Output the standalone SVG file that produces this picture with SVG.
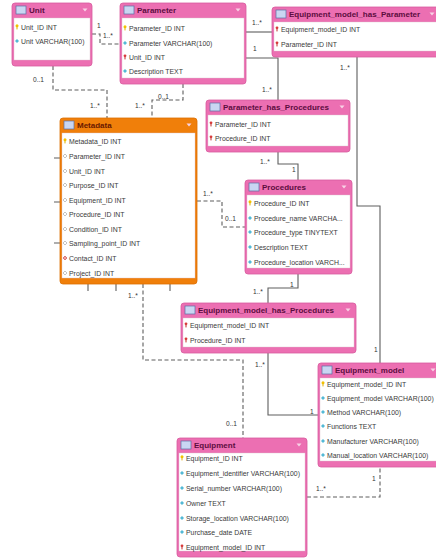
<svg xmlns="http://www.w3.org/2000/svg" xmlns:xlink="http://www.w3.org/1999/xlink" width="436" height="559" viewBox="0 0 436 559">
<style>
.frame{fill:#ec6fb2;stroke:#d85a9e;stroke-width:0.8}
.mframe{fill:#f07f0a;stroke:#dc6f00;stroke-width:0.8}
.body{fill:#ffffff;stroke:#d9c0cc;stroke-width:0.4}
.ico{fill:#c9d6f2;stroke:#5b6ea3;stroke-width:0.7}
.hd{font-family:"Liberation Sans",Arial,sans-serif;font-weight:bold;font-size:8px;fill:#5c0d3f}
.mhd{font-family:"Liberation Sans",Arial,sans-serif;font-weight:bold;font-size:8px;fill:#6a1800}
.arr{fill:#f7d3e6}
.r{font-family:"Liberation Sans",Arial,sans-serif;font-size:6.9px;fill:#3a3a3a}
.lb{font-family:"Liberation Sans",Arial,sans-serif;font-size:6.6px;fill:#333}
.sol{fill:none;stroke:#5e5e5e;stroke-width:1.1}
.das{fill:none;stroke:#5e5e5e;stroke-width:1.1;stroke-dasharray:4,2.5}
</style>
<defs>
<g id="k"><circle cx="0" cy="-1.2" r="1.5" fill="#f2c200"/><rect x="-0.5" y="-0.2" width="1" height="2.6" fill="#e0b000"/></g>
<g id="f"><circle cx="0" cy="-1.2" r="1.4" fill="#d83a3a"/><rect x="-0.5" y="-0.2" width="1" height="2.6" fill="#c02a2a"/></g>
<path id="c" d="M0,-2 L2,0 L0,2 L-2,0Z" fill="#53b9d6"/>
<path id="h" d="M0,-2 L2,0 L0,2 L-2,0Z" fill="#ffffff" stroke="#9a9a9a" stroke-width="0.6"/>
<path id="hr" d="M0,-2 L2,0 L0,2 L-2,0Z" fill="#f2a0a0" stroke="#c04040" stroke-width="0.6"/>
<path id="a" d="M-2.5,-1.5 L2.5,-1.5 L0,1.5Z"/>
</defs>

<g id="connectors">
<path class="das" d="M92,34 H100 V44 H120"/>
<path class="das" d="M53,66 V90 H107 V118"/>
<path class="das" d="M183,84 V100 H152 V118"/>
<path class="sol" d="M246,32 H272"/>
<path class="sol" d="M246,58 H278 V100"/>
<path class="sol" d="M357,57 V206 H380 V363"/>
<path class="sol" d="M278,152 V164 H298 V180"/>
<path class="das" d="M197,201 H222 V227 H245"/>
<path class="sol" d="M298,274 V288 H268 V303"/>
<path class="sol" d="M268,353 V415 H318"/>
<path class="das" d="M143,284 V360 H243 V438"/>
<path class="das" d="M307,497 H380 V467"/>
<path class="sol" d="M54,158 H60 M54,202 H60 M54,243 H60 M88,284 V291 M116,284 V291 M170,284 V291"/>
<text class="lb" x="97" y="28">1</text><text class="lb" x="103" y="38">1..*</text>
<text class="lb" x="33" y="82">0..1</text><text class="lb" x="90" y="108">1..*</text>
<text class="lb" x="158" y="99">0..1</text><text class="lb" x="135" y="108">1..*</text>
<text class="lb" x="252" y="25">1..*</text>
<text class="lb" x="253" y="51">1</text><text class="lb" x="262" y="92">1..*</text>
<text class="lb" x="340" y="70">1..*</text><text class="lb" x="374" y="352">1</text>
<text class="lb" x="260" y="164">1..*</text><text class="lb" x="292" y="172">1</text>
<text class="lb" x="203" y="196">1..*</text><text class="lb" x="225" y="221">0..1</text>
<text class="lb" x="253" y="294">1..*</text><text class="lb" x="290" y="287">1</text>
<text class="lb" x="255" y="367">1..*</text><text class="lb" x="310" y="414">1</text>
<text class="lb" x="128" y="298">1..*</text><text class="lb" x="226" y="426">0..1</text>
<text class="lb" x="316" y="491">1..*</text><text class="lb" x="372" y="481">1</text>
</g>

<g id="unit">
<rect class="frame" x="12" y="3" width="80" height="63" rx="3"/>
<rect class="body" x="14" y="18" width="76" height="42"/>
<rect class="ico" x="16" y="6" width="10" height="8"/>
<text class="hd" x="29" y="13">Unit</text>
<use href="#a" x="85" y="10" class="arr"/>
<use href="#k" x="17" y="27"/><text class="r" x="21" y="29.5">Unit_ID INT</text>
<use href="#c" x="17" y="41"/><text class="r" x="21" y="43.5">Unit VARCHAR(100)</text>
</g>

<g id="parameter">
<rect class="frame" x="120" y="3" width="126" height="81" rx="3"/>
<rect class="body" x="122" y="18" width="122" height="60"/>
<rect class="ico" x="124" y="6" width="10" height="8"/>
<text class="hd" x="137" y="13">Parameter</text>
<use href="#a" x="238" y="10" class="arr"/>
<use href="#k" x="125" y="28"/><text class="r" x="129" y="30.5">Parameter_ID INT</text>
<use href="#c" x="125" y="43"/><text class="r" x="129" y="45.5">Parameter VARCHAR(100)</text>
<use href="#f" x="125" y="57"/><text class="r" x="129" y="59.5">Unit_ID INT</text>
<use href="#c" x="125" y="71"/><text class="r" x="129" y="73.5">Description TEXT</text>
</g>

<g id="equipment_model_has_parameter">
<rect class="frame" x="272" y="7" width="168" height="50" rx="3"/>
<rect class="body" x="274" y="22" width="164" height="29"/>
<rect class="ico" x="276" y="10" width="10" height="8"/>
<text class="hd" x="289" y="17">Equipment_model_has_Parameter</text>
<use href="#a" x="432" y="14" class="arr"/>
<use href="#f" x="277" y="29"/><text class="r" x="281" y="31.5">Equipment_model_ID INT</text>
<use href="#f" x="277" y="44"/><text class="r" x="281" y="46.5">Parameter_ID INT</text>
</g>

<g id="parameter_has_procedures">
<rect class="frame" x="206" y="100" width="144" height="52" rx="3"/>
<rect class="body" x="208" y="115" width="140" height="31"/>
<rect class="ico" x="210" y="103" width="10" height="8"/>
<text class="hd" x="223" y="110">Parameter_has_Procedures</text>
<use href="#a" x="342" y="107" class="arr"/>
<use href="#f" x="211" y="124"/><text class="r" x="215" y="126.5">Parameter_ID INT</text>
<use href="#f" x="211" y="138"/><text class="r" x="215" y="140.5">Procedure_ID INT</text>
</g>

<g id="metadata">
<rect class="mframe" x="60" y="118" width="137" height="166" rx="3"/>
<rect class="body" x="62" y="133" width="133" height="145"/>
<rect class="ico" x="64" y="121" width="10" height="8"/>
<text class="mhd" x="77" y="128">Metadata</text>
<use href="#a" x="189" y="125" class="arr"/>
<use href="#k" x="65" y="141"/><text class="r" x="69" y="143.5">Metadata_ID INT</text>
<use href="#h" x="65" y="156"/><text class="r" x="69" y="158.5">Parameter_ID INT</text>
<use href="#h" x="65" y="171"/><text class="r" x="69" y="173.5">Unit_ID INT</text>
<use href="#h" x="65" y="185"/><text class="r" x="69" y="187.5">Purpose_ID INT</text>
<use href="#h" x="65" y="200"/><text class="r" x="69" y="202.5">Equipment_ID INT</text>
<use href="#h" x="65" y="214"/><text class="r" x="69" y="216.5">Procedure_ID INT</text>
<use href="#h" x="65" y="229"/><text class="r" x="69" y="231.5">Condition_ID INT</text>
<use href="#h" x="65" y="243"/><text class="r" x="69" y="245.5">Sampling_point_ID INT</text>
<use href="#hr" x="65" y="258"/><text class="r" x="69" y="260.5">Contact_ID INT</text>
<use href="#h" x="65" y="273"/><text class="r" x="69" y="275.5">Project_ID INT</text>
</g>

<g id="procedures">
<rect class="frame" x="245" y="180" width="107" height="94" rx="3"/>
<rect class="body" x="247" y="195" width="103" height="73"/>
<rect class="ico" x="249" y="183" width="10" height="8"/>
<text class="hd" x="262" y="190">Procedures</text>
<use href="#a" x="344" y="187" class="arr"/>
<use href="#k" x="250" y="203"/><text class="r" x="254" y="205.5">Procedure_ID INT</text>
<use href="#c" x="250" y="218"/><text class="r" x="254" y="220.5">Procedure_name VARCHA...</text>
<use href="#c" x="250" y="232"/><text class="r" x="254" y="234.5">Procedure_type TINYTEXT</text>
<use href="#c" x="250" y="247"/><text class="r" x="254" y="249.5">Description TEXT</text>
<use href="#c" x="250" y="262"/><text class="r" x="254" y="264.5">Procedure_location VARCH...</text>
</g>

<g id="equipment_model_has_procedures">
<rect class="frame" x="181" y="303" width="175" height="50" rx="3"/>
<rect class="body" x="183" y="318" width="171" height="29"/>
<rect class="ico" x="185" y="306" width="10" height="8"/>
<text class="hd" x="198" y="313">Equipment_model_has_Procedures</text>
<use href="#a" x="348" y="310" class="arr"/>
<use href="#f" x="186" y="325"/><text class="r" x="190" y="327.5">Equipment_model_ID INT</text>
<use href="#f" x="186" y="340"/><text class="r" x="190" y="342.5">Procedure_ID INT</text>
</g>

<g id="equipment_model">
<rect class="frame" x="318" y="363" width="124" height="104" rx="3"/>
<rect class="body" x="320" y="378" width="120" height="83"/>
<rect class="ico" x="322" y="366" width="10" height="8"/>
<text class="hd" x="335" y="373">Equipment_model</text>
<use href="#a" x="433" y="370" class="arr"/>
<use href="#k" x="323" y="384"/><text class="r" x="327" y="386.5">Equipment_model_ID INT</text>
<use href="#c" x="323" y="398"/><text class="r" x="327" y="400.5">Equipment_model VARCHAR(100)</text>
<use href="#c" x="323" y="412"/><text class="r" x="327" y="414.5">Method VARCHAR(100)</text>
<use href="#c" x="323" y="426"/><text class="r" x="327" y="428.5">Functions TEXT</text>
<use href="#c" x="323" y="441"/><text class="r" x="327" y="443.5">Manufacturer VARCHAR(100)</text>
<use href="#c" x="323" y="455"/><text class="r" x="327" y="457.5">Manual_location VARCHAR(100)</text>
</g>

<g id="equipment">
<rect class="frame" x="177" y="438" width="130" height="119" rx="3"/>
<rect class="body" x="179" y="453" width="126" height="98"/>
<rect class="ico" x="181" y="441" width="10" height="8"/>
<text class="hd" x="194" y="448">Equipment</text>
<use href="#a" x="299" y="445" class="arr"/>
<use href="#k" x="182" y="458"/><text class="r" x="186" y="460.5">Equipment_ID INT</text>
<use href="#c" x="182" y="473"/><text class="r" x="186" y="475.5">Equipment_identifier VARCHAR(100)</text>
<use href="#c" x="182" y="488"/><text class="r" x="186" y="490.5">Serial_number VARCHAR(100)</text>
<use href="#c" x="182" y="503"/><text class="r" x="186" y="505.5">Owner TEXT</text>
<use href="#c" x="182" y="518"/><text class="r" x="186" y="520.5">Storage_location VARCHAR(100)</text>
<use href="#c" x="182" y="532"/><text class="r" x="186" y="534.5">Purchase_date DATE</text>
<use href="#f" x="182" y="547"/><text class="r" x="186" y="549.5">Equipment_model_ID INT</text>
</g>
</svg>
